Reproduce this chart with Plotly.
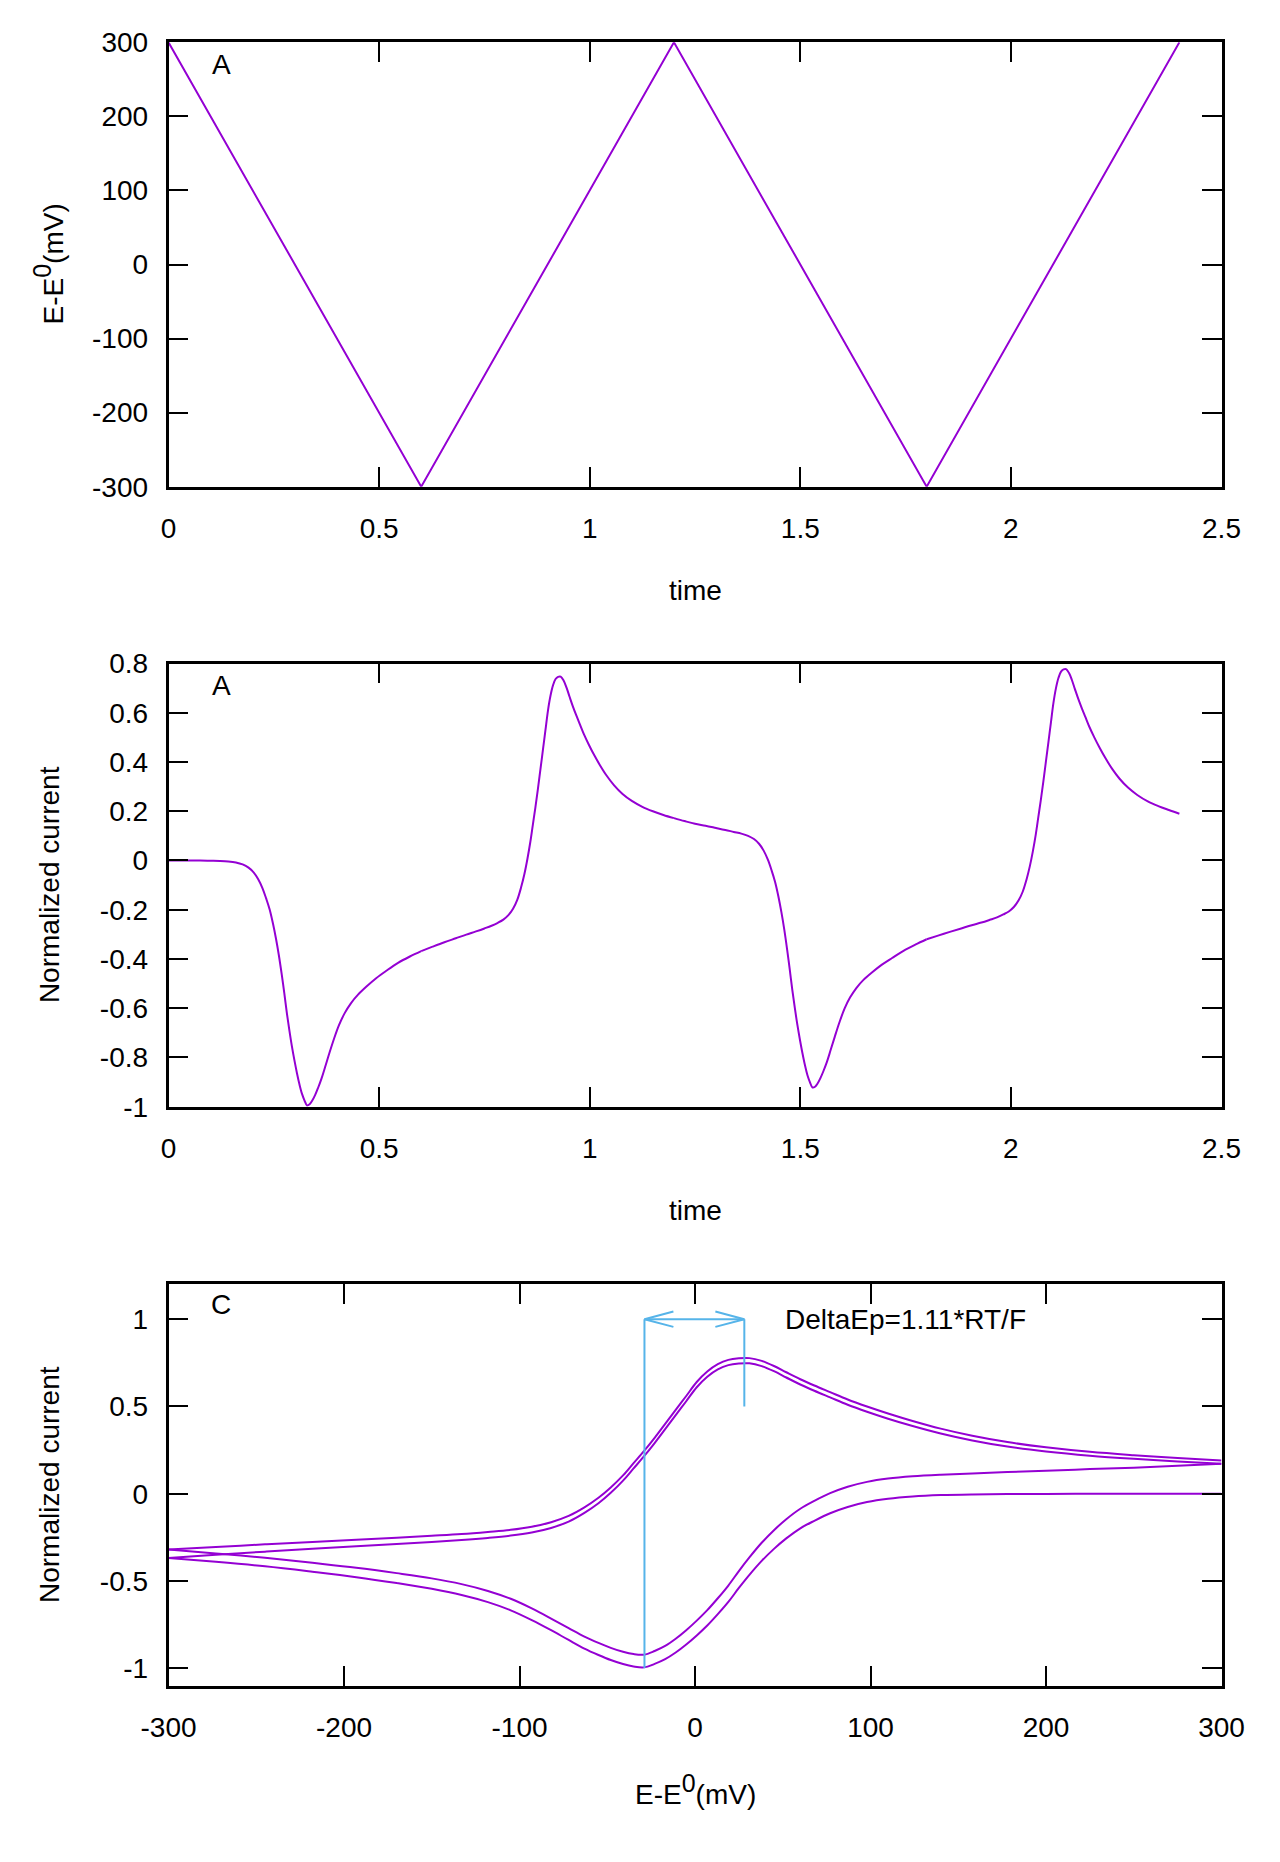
import plotly.graph_objects as go

# ---- data ----
# panel A: potential ramp (vertices of the triangle wave)
time_vertices = [0, 0.6, 1.2, 1.8, 2.4]
E_vertices = [300, -300, 300, -300, 300]

# potential of each sample on the cathodic (down) and anodic (up) sweeps, mV
E_down = [300, 275, 250, 225, 200, 178, 158, 140, 124, 110, 98, 87, 77, 68, 60, 52, 45, 38, 31, 25,
          19, 13, 7, 1, -5, -11, -17, -23, -29, -35, -41, -48, -55, -63, -72, -82, -93, -105, -118,
          -133, -150, -170, -193, -218, -245, -273, -300]
E_up = [-300, -273, -245, -218, -193, -170, -150, -133, -118, -105, -93, -82, -72, -63, -55, -48, -41,
        -35, -29, -23, -17, -11, -5, 1, 7, 13, 19, 25, 31, 38, 45, 52, 60, 68, 77, 87, 98, 110, 124,
        140, 158, 178, 200, 225, 250, 275, 300]

# time of each sample
t_sweep1 = [0, 0.025, 0.05, 0.075, 0.1, 0.122, 0.142, 0.16, 0.176, 0.19, 0.202, 0.213, 0.223, 0.232,
            0.24, 0.248, 0.255, 0.262, 0.269, 0.275, 0.281, 0.287, 0.293, 0.299, 0.305, 0.311, 0.317,
            0.323, 0.329, 0.335, 0.341, 0.348, 0.355, 0.363, 0.372, 0.382, 0.393, 0.405, 0.418, 0.433,
            0.45, 0.47, 0.493, 0.518, 0.545, 0.573, 0.6]
t_sweep2 = [0.6, 0.627, 0.655, 0.682, 0.707, 0.73, 0.75, 0.767, 0.782, 0.795, 0.807, 0.818, 0.828,
            0.837, 0.845, 0.852, 0.859, 0.865, 0.871, 0.877, 0.883, 0.889, 0.895, 0.901, 0.907, 0.913,
            0.919, 0.925, 0.931, 0.938, 0.945, 0.952, 0.96, 0.968, 0.977, 0.987, 0.998, 1.01, 1.024,
            1.04, 1.058, 1.078, 1.1, 1.125, 1.15, 1.175, 1.2]
t_sweep3 = [1.2, 1.225, 1.25, 1.275, 1.3, 1.322, 1.342, 1.36, 1.376, 1.39, 1.402, 1.413, 1.423, 1.432,
            1.44, 1.448, 1.455, 1.462, 1.469, 1.475, 1.481, 1.487, 1.493, 1.499, 1.505, 1.511, 1.517,
            1.523, 1.529, 1.535, 1.541, 1.548, 1.555, 1.563, 1.572, 1.582, 1.593, 1.605, 1.618, 1.633,
            1.65, 1.67, 1.693, 1.718, 1.745, 1.773, 1.8]
t_sweep4 = [1.8, 1.827, 1.855, 1.882, 1.907, 1.93, 1.95, 1.967, 1.982, 1.995, 2.007, 2.018, 2.028,
            2.037, 2.045, 2.052, 2.059, 2.065, 2.071, 2.077, 2.083, 2.089, 2.095, 2.101, 2.107, 2.113,
            2.119, 2.125, 2.131, 2.138, 2.145, 2.152, 2.16, 2.168, 2.177, 2.187, 2.198, 2.21, 2.224,
            2.24, 2.258, 2.278, 2.3, 2.325, 2.35, 2.375, 2.4]

# normalized current
i_sweep1 = [0, 0, 0, 0, -0.001, -0.002, -0.004, -0.008, -0.016, -0.029, -0.048, -0.076, -0.112, -0.155,
            -0.198, -0.256, -0.316, -0.385, -0.465, -0.54, -0.62, -0.69, -0.755, -0.812, -0.864, -0.91,
            -0.948, -0.975, -0.995, -0.99, -0.976, -0.953, -0.924, -0.887, -0.838, -0.782, -0.724,
            -0.668, -0.621, -0.58, -0.545, -0.512, -0.478, -0.447, -0.416, -0.39, -0.368]
i_sweep2 = [-0.368, -0.35, -0.332, -0.316, -0.301, -0.288, -0.276, -0.265, -0.253, -0.24, -0.222,
            -0.196, -0.16, -0.11, -0.055, 0.005, 0.075, 0.145, 0.215, 0.29, 0.37, 0.45, 0.53, 0.61, 0.67,
            0.712, 0.737, 0.746, 0.747, 0.731, 0.702, 0.666, 0.626, 0.59, 0.552, 0.51, 0.47, 0.43,
            0.388, 0.345, 0.305, 0.27, 0.242, 0.218, 0.2, 0.185, 0.172]
i_sweep3 = [0.172, 0.16, 0.149, 0.141, 0.132, 0.124, 0.116, 0.109, 0.1, 0.087, 0.068, 0.04, 0.003,
            -0.041, -0.086, -0.146, -0.209, -0.281, -0.365, -0.443, -0.526, -0.599, -0.667, -0.727,
            -0.782, -0.831, -0.872, -0.901, -0.922, -0.919, -0.906, -0.883, -0.855, -0.819, -0.77,
            -0.715, -0.657, -0.602, -0.557, -0.518, -0.485, -0.455, -0.424, -0.396, -0.367, -0.342,
            -0.32]
i_sweep4 = [-0.32, -0.305, -0.29, -0.276, -0.263, -0.252, -0.241, -0.231, -0.219, -0.207, -0.189,
            -0.163, -0.127, -0.078, -0.023, 0.036, 0.105, 0.175, 0.245, 0.32, 0.4, 0.48, 0.56, 0.64, 0.7,
            0.742, 0.767, 0.776, 0.777, 0.761, 0.732, 0.696, 0.656, 0.62, 0.582, 0.54, 0.5, 0.46, 0.417,
            0.373, 0.332, 0.296, 0.266, 0.24, 0.221, 0.205, 0.19]

# peak potentials marked in panel C
peak_E = [-28.8, 28.1]
peak_marker_y = [[-1.0, 1.0], [0.5, 1.0]]
arrow_y = 1.0

# ticks
time_ticks = [0, 0.5, 1, 1.5, 2, 2.5]
time_ticktext = ["0", "0.5", "1", "1.5", "2", "2.5"]
E_ticks = [-300, -200, -100, 0, 100, 200, 300]
E_ticktext = ["-300", "-200", "-100", "0", "100", "200", "300"]
i2_ticks = [-1, -0.8, -0.6, -0.4, -0.2, 0, 0.2, 0.4, 0.6, 0.8]
i2_ticktext = ["-1", "-0.8", "-0.6", "-0.4", "-0.2", "0", "0.2", "0.4", "0.6", "0.8"]
i3_ticks = [-1, -0.5, 0, 0.5, 1]
i3_ticktext = ["-1", "-0.5", "0", "0.5", "1"]

# ---- style ----
PAGE_W, PAGE_H = 1280, 1862
PAD = 8                      # default body margin of the html page
W, H = PAGE_W - 2 * PAD, PAGE_H - 2 * PAD
PURPLE = "#9400d3"
BLUE = "#56b4e9"
FONT = "Liberation Sans, Arial, sans-serif"
FS = 28

# plot frames in page pixels (left, right / top, bottom)
X0, X1 = 168.5, 1221.5
FRAMES = [(42.3, 486.7), (663.5, 1106.7), (1284.3, 1685.7)]


def px_x(x):
    return (x - PAD) / W


def px_y(y):
    return 1 - (y - PAD) / H


def axis_style(**kw):
    d = dict(showline=True, linecolor="black", linewidth=2.6, mirror="ticks",
             ticks="inside", ticklen=20, tickwidth=2.2, tickcolor="black",
             showgrid=False, zeroline=False, fixedrange=True, automargin=False,
             tickfont=dict(family=FONT, size=FS, color="black"))
    d.update(kw)
    return d


fig = go.Figure()
line = dict(color=PURPLE, width=2)
smooth = dict(color=PURPLE, width=2, shape="spline", smoothing=1.0)

# panel A: potential vs time
fig.add_trace(go.Scatter(x=time_vertices, y=E_vertices, mode="lines", line=line,
                         xaxis="x", yaxis="y"))

sweeps_t = [t_sweep1, t_sweep2, t_sweep3, t_sweep4]
sweeps_E = [E_down, E_up, E_down, E_up]
sweeps_i = [i_sweep1, i_sweep2, i_sweep3, i_sweep4]

# panel B: current vs time
for t, cur in zip(sweeps_t, sweeps_i):
    fig.add_trace(go.Scatter(x=t, y=cur, mode="lines", line=smooth, xaxis="x2", yaxis="y2"))

# panel C: current vs potential
for E, cur in zip(sweeps_E, sweeps_i):
    fig.add_trace(go.Scatter(x=E, y=cur, mode="lines", line=smooth, xaxis="x3", yaxis="y3"))

# peak separation marker
blue = dict(color=BLUE, width=2)
for e, yy in zip(peak_E, peak_marker_y):
    fig.add_trace(go.Scatter(x=[e, e], y=yy, mode="lines", line=blue, xaxis="x3", yaxis="y3"))
fig.add_trace(go.Scatter(x=peak_E, y=[arrow_y, arrow_y], mode="lines", line=blue,
                         xaxis="x3", yaxis="y3"))
head_len, head_w = 16.5, 0.044
for e, sgn in zip(peak_E, [1, -1]):
    fig.add_trace(go.Scatter(x=[e + sgn * head_len, e, e + sgn * head_len],
                             y=[arrow_y + head_w, arrow_y, arrow_y - head_w],
                             mode="lines", line=blue, xaxis="x3", yaxis="y3"))

xdom = [px_x(X0), px_x(X1)]
ydoms = [[px_y(bottom), px_y(top)] for top, bottom in FRAMES]
xs = dict(ticklabelstandoff=15)
ys = dict(ticklabelstandoff=12)
fig.update_layout(
    width=W, height=H, autosize=False, showlegend=False,
    margin=dict(l=0, r=0, t=0, b=0, autoexpand=False),
    paper_bgcolor="white", plot_bgcolor="white",
    font=dict(family=FONT, size=FS, color="black"),
    xaxis=axis_style(domain=xdom, range=[0, 2.5], tickvals=time_ticks, ticktext=time_ticktext,
                     anchor="y", **xs),
    yaxis=axis_style(domain=ydoms[0], range=[-300, 300], tickvals=E_ticks,
                     ticktext=E_ticktext, anchor="x", **ys),
    xaxis2=axis_style(domain=xdom, range=[0, 2.5], tickvals=time_ticks, ticktext=time_ticktext,
                      anchor="y2", **xs),
    yaxis2=axis_style(domain=ydoms[1], range=[-1, 0.8], tickvals=i2_ticks,
                      ticktext=i2_ticktext, anchor="x2", **ys),
    xaxis3=axis_style(domain=xdom, range=[-300, 300], tickvals=E_ticks, ticktext=E_ticktext,
                      anchor="y3", **xs),
    yaxis3=axis_style(domain=ydoms[2], range=[-1.1, 1.2], tickvals=i3_ticks,
                      ticktext=i3_ticktext, anchor="x3", **ys),
)

ann = []
E_title = "E-E<sup><span style='font-size:25px'>0</span></sup>(mV)"
x_titles = ["time", "time", E_title]
y_titles = [E_title, "Normalized current", "Normalized current"]
panel_labels = ["A", "A", "C"]
for k, (top, bottom) in enumerate(FRAMES):
    suffix = "" if k == 0 else str(k + 1)
    ann.append(dict(text=x_titles[k], xref="paper", yref="paper",
                    x=px_x((X0 + X1) / 2), y=px_y(bottom + 104),
                    xanchor="center", yanchor="middle", showarrow=False))
    ann.append(dict(text=y_titles[k], xref="paper", yref="paper", textangle=-90,
                    x=px_x(49), y=px_y((top + bottom) / 2),
                    xanchor="center", yanchor="middle", showarrow=False))
    ann.append(dict(text=panel_labels[k], xref="x" + suffix + " domain", yref="y" + suffix + " domain",
                    x=0.05, y=0.95, xanchor="center", yanchor="middle", showarrow=False))
ann.append(dict(text="DeltaEp=1.11*RT/F", xref="x3", yref="y3", x=50, y=arrow_y,
                xanchor="left", yanchor="middle", showarrow=False))
fig.update_layout(annotations=ann)

fig.write_html("out.html")
